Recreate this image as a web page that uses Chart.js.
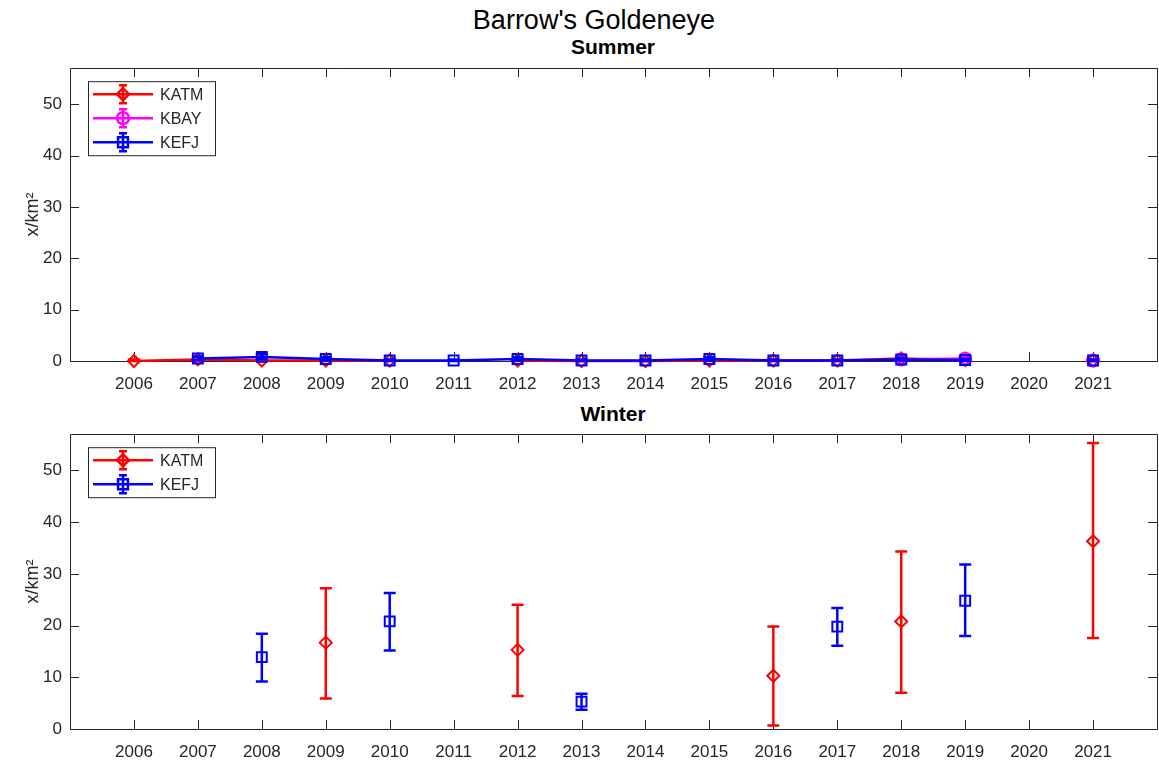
<!DOCTYPE html>
<html>
<head>
<meta charset="utf-8">
<script src="https://cdn.jsdelivr.net/npm/chart.js@4"></script>
<style>
  body { margin: 0; background: #fff; width: 1159px; height: 766px; overflow: hidden; position: relative; font-family: "Liberation Sans", Arial, sans-serif; }
  .txt { position: absolute; white-space: nowrap; transform: translate(-50%, -50%); color: #000; }
  canvas { position: absolute; left: 0; }
</style>
</head>
<body>
<div class="txt" style="left:594px; top:20px; font-size:27px;">Barrow's Goldeneye</div>
<div class="txt" style="left:613px; top:47px; font-size:21px; font-weight:bold;">Summer</div>
<div class="txt" style="left:613px; top:414px; font-size:21px; font-weight:bold;">Winter</div>
<canvas id="summer-chart" width="1159" height="340" style="top:58px"></canvas>
<canvas id="winter-chart" width="1159" height="342" style="top:424px"></canvas>
<script>
const years = [2006, 2007, 2008, 2009, 2010, 2011, 2012, 2013, 2014, 2015, 2016, 2017, 2018, 2019, 2020, 2021];
const yTicks = [0, 10, 20, 30, 40, 50];

// summer densities, with lower / upper error bar ends
const summerKATM     = [0.0, 0.3, 0.1, 0.1, 0.1, null, 0.1, 0.0, 0.0, 0.1, 0.1, 0.1, 0.5, 0.2, null, 0.1];
const summerKATMLow  = [0.0, 0.0, 0.0, 0.0, 0.0, null, 0.0, 0.0, 0.0, 0.0, 0.0, 0.0, 0.1, 0.0, null, 0.0];
const summerKATMHigh = [0.3, 0.8, 0.4, 0.3, 0.3, null, 0.4, 0.2, 0.2, 0.4, 0.3, 0.3, 1.0, 0.5, null, 0.3];

const summerKBAY     = [null, null, null, null, null, null, null, null, null, null, null, null, 0.3, 0.5, null, 0.1];
const summerKBAYLow  = [null, null, null, null, null, null, null, null, null, null, null, null, 0.0, 0.1, null, 0.0];
const summerKBAYHigh = [null, null, null, null, null, null, null, null, null, null, null, null, 0.7, 0.9, null, 0.3];

const summerKEFJ     = [null, 0.5, 0.8, 0.4, 0.1, 0.1, 0.4, 0.1, 0.1, 0.4, 0.1, 0.1, 0.3, 0.2, null, 0.1];
const summerKEFJLow  = [null, 0.2, 0.4, 0.1, 0.0, 0.0, 0.1, 0.0, 0.0, 0.1, 0.0, 0.0, 0.1, 0.0, null, 0.0];
const summerKEFJHigh = [null, 0.9, 1.3, 0.8, 0.3, 0.3, 0.8, 0.3, 0.3, 0.8, 0.3, 0.3, 0.6, 0.4, null, 0.3];

// winter densities
const winterKATM     = [null, null, null, 16.7, null, null, 15.3, null, null, null, 10.3, null, 20.8, null, null, 36.3];
const winterKATMLow  = [null, null, null, 5.9, null, null, 6.4, null, null, null, 0.7, null, 7.0, null, null, 17.6];
const winterKATMHigh = [null, null, null, 27.2, null, null, 24.0, null, null, null, 19.8, null, 34.3, null, null, 55.3];

const winterKEFJ     = [null, null, 13.9, null, 20.8, null, null, 5.3, null, null, null, 19.8, null, 24.8, null, null];
const winterKEFJLow  = [null, null, 9.2, null, 15.2, null, null, 3.7, null, null, null, 16.1, null, 18.0, null, null];
const winterKEFJHigh = [null, null, 18.4, null, 26.3, null, null, 6.8, null, null, null, 23.4, null, 31.8, null, null];

const axisColor = '#262626';
const fontFamily = '"Liberation Sans", Arial, sans-serif';

function series(label, color, style, radius, values, low, high, order) {
    return {
        label: label,
        data: years.map((x, i) => ({ x: x, y: values[i] })),
        errLow: low,
        errHigh: high,
        borderColor: color,
        borderWidth: 2.5,
        pointStyle: style,
        pointRadius: radius,
        pointBorderWidth: 2,
        pointBorderColor: color,
        pointBackgroundColor: 'rgba(0,0,0,0)',
        spanGaps: false,
        clip: false,
        order: order
    };
}

// vertical error bars with caps, drawn just under each dataset's markers
const errorBars = {
    id: 'errorBars',
    beforeDatasetDraw(chart, args) {
        const ds = chart.data.datasets[args.index];
        if (!ds.errLow) return;
        const ctx = chart.ctx, xs = chart.scales.x, ys = chart.scales.y;
        ctx.save();
        ctx.strokeStyle = ds.borderColor;
        ctx.lineWidth = 2.5;
        ds.data.forEach((pt, i) => {
            if (pt.y == null) return;
            const px = xs.getPixelForValue(pt.x);
            const lo = ys.getPixelForValue(ds.errLow[i]);
            const hi = ys.getPixelForValue(ds.errHigh[i]);
            ctx.beginPath();
            ctx.moveTo(px, lo); ctx.lineTo(px, hi);
            ctx.moveTo(px - 6, lo); ctx.lineTo(px + 6, lo);
            ctx.moveTo(px - 6, hi); ctx.lineTo(px + 6, hi);
            ctx.stroke();
        });
        ctx.restore();
    }
};

// boxed axes with inward tick marks on all four sides
const axesBox = {
    id: 'axesBox',
    beforeDatasetsDraw(chart) {
        const { ctx, chartArea: a, scales } = chart;
        const tl = 9;
        ctx.save();
        ctx.strokeStyle = axisColor;
        ctx.lineWidth = 1;
        ctx.beginPath();
        ctx.rect(Math.round(a.left) + 0.5, Math.round(a.top) + 0.5, Math.round(a.right - a.left), Math.round(a.bottom - a.top));
        scales.x.ticks.forEach(t => {
            const px = Math.round(scales.x.getPixelForValue(t.value)) + 0.5;
            ctx.moveTo(px, a.bottom); ctx.lineTo(px, a.bottom - tl);
            ctx.moveTo(px, a.top); ctx.lineTo(px, a.top + tl);
        });
        scales.y.ticks.forEach(t => {
            const py = Math.round(scales.y.getPixelForValue(t.value)) + 0.5;
            ctx.moveTo(a.left, py); ctx.lineTo(a.left + tl, py);
            ctx.moveTo(a.right, py); ctx.lineTo(a.right - tl, py);
        });
        ctx.stroke();
        ctx.restore();
    }
};

// legend entries showing line, marker and error bar
const boxLegend = {
    id: 'boxLegend',
    afterDraw(chart) {
        const { ctx, chartArea: a } = chart;
        const sets = chart.data.datasets;
        const left = a.left + 18, top = a.top + 13;
        const rowH = 24, w = 127, h = sets.length * rowH + 2;
        ctx.save();
        ctx.fillStyle = '#fff';
        ctx.fillRect(left, top, w, h);
        ctx.strokeStyle = axisColor;
        ctx.lineWidth = 1;
        ctx.strokeRect(left + 0.5, top + 0.5, w, h);
        sets.forEach((ds, i) => {
            const cy = top + 13 + i * rowH;
            const mx = left + 35;
            ctx.strokeStyle = ds.borderColor;
            ctx.lineWidth = 2.5;
            ctx.beginPath();
            ctx.moveTo(left + 5, cy); ctx.lineTo(left + 65, cy);
            ctx.moveTo(mx, cy - 9); ctx.lineTo(mx, cy + 9);
            ctx.moveTo(mx - 4, cy - 9); ctx.lineTo(mx + 4, cy - 9);
            ctx.moveTo(mx - 4, cy + 9); ctx.lineTo(mx + 4, cy + 9);
            ctx.stroke();
            ctx.fillStyle = 'rgba(0,0,0,0)';
            ctx.lineWidth = 2.5;
            Chart.helpers.drawPoint(ctx, {
                pointStyle: ds.pointStyle, radius: ds.pointRadius, borderWidth: 2.5, rotation: 0
            }, mx, cy);
            ctx.fillStyle = axisColor;
            ctx.font = '16px ' + fontFamily;
            ctx.textAlign = 'left';
            ctx.textBaseline = 'middle';
            ctx.fillText(ds.label, left + 72, cy + 1);
        });
        ctx.restore();
    }
};

function makeChart(canvas, datasets, yMax) {
    return new Chart(canvas, {
        type: 'line',
        data: { datasets: datasets },
        options: {
            responsive: false,
            animation: false,
            layout: { autoPadding: false, padding: { top: 0, right: 2, left: 0, bottom: 0 } },
            plugins: { legend: { display: false }, tooltip: { enabled: false } },
            scales: {
                x: {
                    type: 'linear',
                    min: 2005,
                    max: 2022,
                    grid: { display: false },
                    border: { display: false },
                    afterBuildTicks: scale => { scale.ticks = years.map(v => ({ value: v })); },
                    afterFit: scale => { scale.height = 37; },
                    ticks: {
                        color: axisColor,
                        padding: 5,
                        maxRotation: 0,
                        autoSkip: false,
                        font: { family: fontFamily, size: 17 },
                        callback: v => String(v)
                    }
                },
                y: {
                    min: 0,
                    max: yMax,
                    grid: { display: false },
                    border: { display: false },
                    afterBuildTicks: scale => { scale.ticks = yTicks.map(v => ({ value: v })); },
                    afterFit: scale => { scale.width = 70; },
                    ticks: {
                        color: axisColor,
                        padding: 0,
                        font: { family: fontFamily, size: 17 },
                        callback: v => String(v)
                    },
                    title: {
                        display: true,
                        text: 'x/km²',
                        color: axisColor,
                        padding: { top: 22, bottom: 0 },
                        font: { family: fontFamily, size: 18 }
                    }
                }
            }
        },
        plugins: [errorBars, axesBox, boxLegend]
    });
}

makeChart(document.getElementById('summer-chart'), [
    series('KATM', '#ff0000', 'rectRot', 6, summerKATM, summerKATMLow, summerKATMHigh, 2),
    series('KBAY', '#ff00ff', 'circle', 6, summerKBAY, summerKBAYLow, summerKBAYHigh, 1),
    series('KEFJ', '#0000ff', 'rect', 7, summerKEFJ, summerKEFJLow, summerKEFJHigh, 0)
], 57);

makeChart(document.getElementById('winter-chart'), [
    series('KATM', '#ff0000', 'rectRot', 6, winterKATM, winterKATMLow, winterKATMHigh, 1),
    series('KEFJ', '#0000ff', 'rect', 7, winterKEFJ, winterKEFJLow, winterKEFJHigh, 0)
], 57);
</script>
</body>
</html>
